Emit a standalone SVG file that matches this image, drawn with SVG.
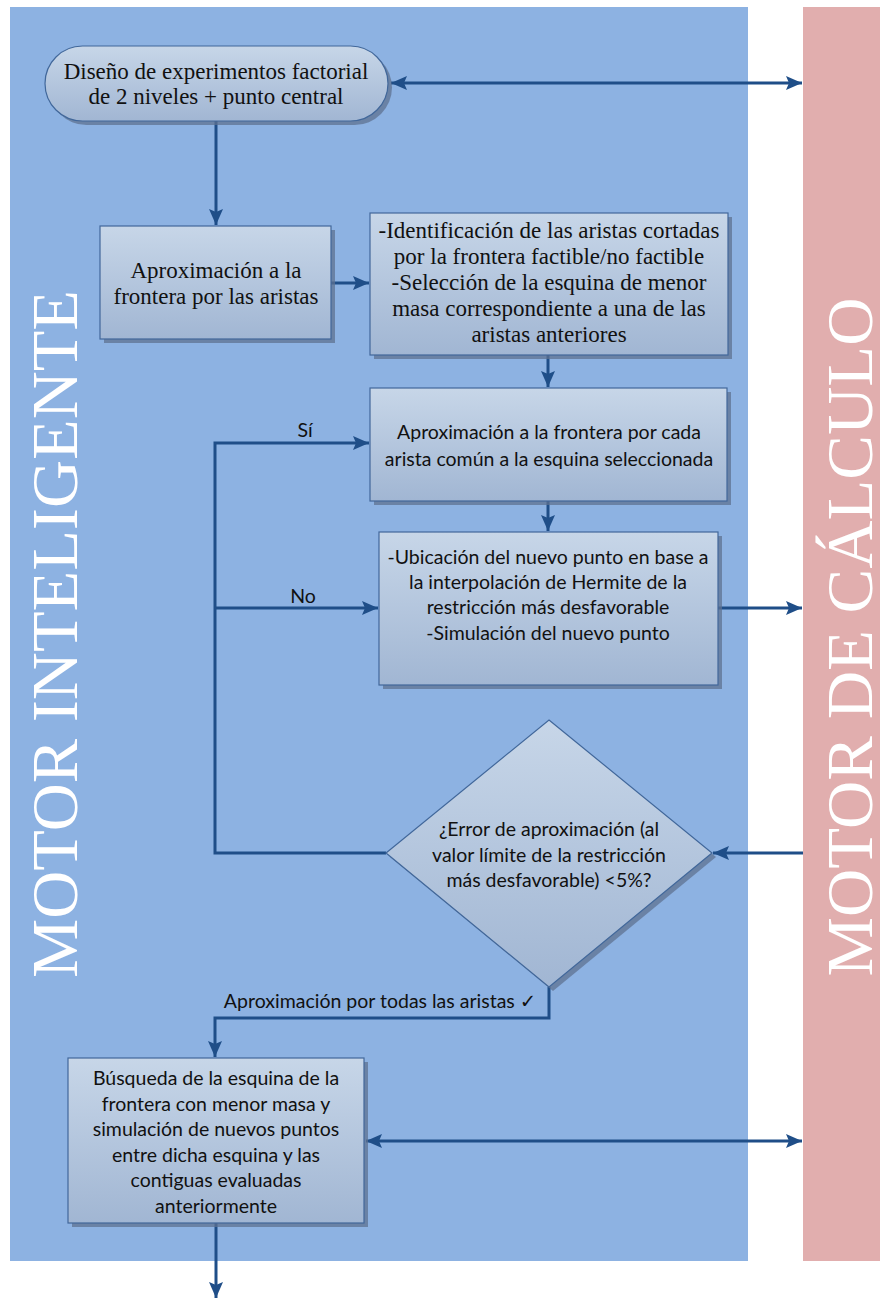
<svg xmlns="http://www.w3.org/2000/svg" width="880" height="1300" viewBox="0 0 880 1300">
<defs>
<linearGradient id="g" x1="0" y1="0" x2="0" y2="1">
<stop offset="0" stop-color="#C7D6E8"/>
<stop offset="1" stop-color="#A1B6D3"/>
</linearGradient>
<marker id="ah" markerUnits="userSpaceOnUse" markerWidth="18" markerHeight="16" refX="16" refY="7" orient="auto-start-reverse">
<path d="M0,0 L16,7 L0,14 L3,7 z" fill="#1F4E88"/>
</marker>
<style>
.shape{fill:url(#g);stroke:#41679A;stroke-width:1.2}
.shadow{fill:#5F7290;opacity:0.75}
.serif{font-family:"Liberation Serif","Times New Roman",serif;font-size:23px;fill:#111;text-anchor:middle}
.sans{font-family:Lato,"Noto Sans","DejaVu Sans",sans-serif;font-size:19.5px;fill:#111;text-anchor:middle}
.big{font-family:"Liberation Serif","Times New Roman",serif;font-size:66px;fill:#fff;text-anchor:middle}
.c{fill:none;stroke:#1F4E88;stroke-width:3}
</style>
</defs>
<rect x="10" y="7" width="738" height="1254" fill="#8DB2E2"/>
<rect x="803" y="7" width="77" height="1254" fill="#E1AEAE"/>
<text class="big" transform="translate(77,634) rotate(-90)" textLength="688" lengthAdjust="spacingAndGlyphs">MOTOR INTELIGENTE</text>
<text class="big" transform="translate(872,637) rotate(-90)" textLength="679" lengthAdjust="spacingAndGlyphs">MOTOR DE CÁLCULO</text>

<g id="connectors">
<path class="c" d="M391,83 H802" marker-start="url(#ah)" marker-end="url(#ah)"/>
<path class="c" d="M216,121 V225" marker-end="url(#ah)"/>
<path class="c" d="M331,283 H369" marker-end="url(#ah)"/>
<path class="c" d="M548,355 V387" marker-end="url(#ah)"/>
<path class="c" d="M386,853 H215 V443 H369" marker-end="url(#ah)"/>
<path class="c" d="M215,608 H378" marker-end="url(#ah)"/>
<path class="c" d="M548,501 V531" marker-end="url(#ah)"/>
<path class="c" d="M718,608 H802" marker-end="url(#ah)"/>
<path class="c" d="M803,853 H713" marker-end="url(#ah)"/>
<path class="c" d="M549,987 V1018 H215 V1057" marker-end="url(#ah)"/>
<path class="c" d="M366,1141 H802" marker-start="url(#ah)" marker-end="url(#ah)"/>
<path class="c" d="M216,1223 V1298" marker-end="url(#ah)"/>
<text class="sans" x="305" y="437">Sí</text>
<text class="sans" x="303" y="603">No</text>
<text class="sans" x="380" y="1008">Aproximación por todas las aristas ✓</text>
</g>

<g id="n1">
<rect class="shadow" x="49" y="50" width="343" height="75" rx="37.5"/>
<rect class="shape" x="45" y="46" width="343" height="75" rx="37.5"/>
<text class="serif" x="216" y="79">Diseño de experimentos factorial</text>
<text class="serif" x="216" y="104">de 2 niveles + punto central</text>
</g>

<g id="n2">
<rect class="shadow" x="104" y="230" width="231" height="113"/>
<rect class="shape" x="100" y="226" width="231" height="113"/>
<text class="serif" x="216" y="278">Aproximación a la</text>
<text class="serif" x="216" y="304">frontera por las aristas</text>
</g>

<g id="n3">
<rect class="shadow" x="374" y="217" width="358" height="142"/>
<rect class="shape" x="370" y="213" width="358" height="142"/>
<text class="serif" x="549" y="238">-Identificación de las aristas cortadas</text>
<text class="serif" x="549" y="264">por la frontera factible/no factible</text>
<text class="serif" x="549" y="290">-Selección de la esquina de menor</text>
<text class="serif" x="549" y="316">masa correspondiente a una de las</text>
<text class="serif" x="549" y="342">aristas anteriores</text>
</g>

<g id="n4">
<rect class="shadow" x="374" y="392" width="357" height="113"/>
<rect class="shape" x="370" y="388" width="357" height="113"/>
<text class="sans" x="549" y="439">Aproximación a la frontera por cada</text>
<text class="sans" x="549" y="466">arista común a la esquina seleccionada</text>
</g>

<g id="n5">
<rect class="shadow" x="383" y="536" width="339" height="153"/>
<rect class="shape" x="379" y="532" width="339" height="153"/>
<text class="sans" x="548" y="564">-Ubicación del nuevo punto en base a</text>
<text class="sans" x="548" y="589">la interpolación de Hermite de la</text>
<text class="sans" x="548" y="614">restricción más desfavorable</text>
<text class="sans" x="548" y="640">-Simulación del nuevo punto</text>
</g>

<g id="n6">
<polygon class="shadow" points="553,724 716,857 553,991 390,857"/>
<polygon class="shape" points="549,720 712,853 549,987 386,853"/>
<text class="sans" x="549" y="836">¿Error de aproximación (al</text>
<text class="sans" x="549" y="862">valor límite de la restricción</text>
<text class="sans" x="549" y="887">más desfavorable) &lt;5%?</text>
</g>

<g id="n7">
<rect class="shadow" x="72" y="1062" width="296" height="165"/>
<rect class="shape" x="68" y="1058" width="296" height="165"/>
<text class="sans" x="216" y="1085">Búsqueda de la esquina de la</text>
<text class="sans" x="216" y="1111">frontera con menor masa y</text>
<text class="sans" x="216" y="1136">simulación de nuevos puntos</text>
<text class="sans" x="216" y="1162">entre dicha esquina y las</text>
<text class="sans" x="216" y="1187">contiguas evaluadas</text>
<text class="sans" x="216" y="1213">anteriormente</text>
</g>
</svg>
